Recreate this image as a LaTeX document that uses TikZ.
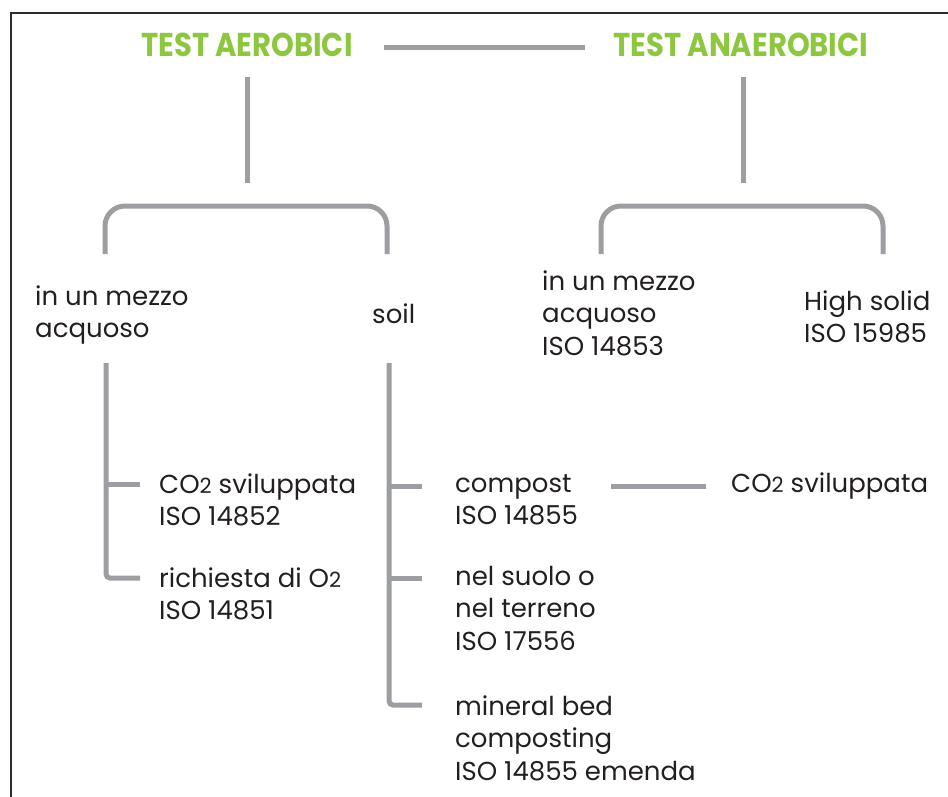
\documentclass[tikz,border=0pt]{standalone}
\usepackage{fontspec}
\setmainfont{Poppins}
\newfontfamily\titlefont[FakeStretch=0.88]{Poppins}
\usepackage{xcolor}
\definecolor{aerogreen}{HTML}{8DC63F}
\definecolor{linegray}{HTML}{9D9EA1}
\definecolor{textdark}{HTML}{231F20}
\definecolor{framegray}{HTML}{2D2C2B}
\newcommand{\subtwo}{{\fontsize{21}{21}\selectfont 2}}

\begin{document}
\begin{tikzpicture}[
    x=1pt, y=-1pt,
    title/.style={font=\titlefont\fontsize{33}{36}\selectfont\bfseries, text=aerogreen,
                  inner sep=0pt, anchor=base},
    lbl/.style={font=\fontsize{26}{32.5}\selectfont, text=textdark,
                align=left, inner sep=0pt, anchor=base west},
    conn/.style={line width=5pt, linegray},
    bracket/.style={conn, rounded corners=20pt},
    trunk/.style={conn, rounded corners=4pt},
]
\useasboundingbox (0,0) rectangle (948,797);

% frame
\draw[framegray, line width=2.5pt] (948,13) -- (11,13) -- (11,797);

% titles
\node[title] (aer) at (247,57) {TEST AEROBICI};
\node[title] (anaer) at (741,57) {TEST ANAEROBICI};
\coordinate (linkL) at (384,48);
\coordinate (linkR) at (585,48);
\draw[conn] (linkL) -- (linkR);

% stems and brackets
\coordinate (aerTop) at (247,77);
\coordinate (aerFoot) at (247,183);
\coordinate (anaerTop) at (743,77);
\coordinate (anaerFoot) at (743,183);
\draw[conn] (aerTop) -- (aerFoot);
\draw[conn] (anaerTop) -- (anaerFoot);
\draw[bracket] (105,254) -- (105,206) -- (387,206) -- (387,254);
\draw[bracket] (601,254) -- (601,206) -- (883,206) -- (883,254);

% second level (base = last line)
\node[lbl] (aquaAer) at (35,337.5) {in un mezzo\\acquoso};
\node[lbl] (soil) at (372,323) {soil};
\node[lbl] (aquaAna) at (542,355) {in un mezzo\\acquoso\\ISO 14853};
\node[lbl] (hisolid) at (804,342.5) {High solid\\ISO 15985};

% aqueous branch
\node[lbl] (co2Aq) at (159,525.5) {CO\subtwo{} sviluppata\\ISO 14852};
\node[lbl] (o2Aq) at (159,619.5) {richiesta di O\subtwo\\ISO 14851};
\coordinate (aqTop) at (106,363);
\coordinate (aqCo2) at (106,484);
\coordinate (aqO2) at (106,578);
\draw[trunk] (aqTop) -- (aqO2) -- ++(34,0);
\draw[conn] (aqCo2) -- ++(34,0);

% soil branch
\node[lbl] (compost) at (455,524.5) {compost\\ISO 14855};
\node[lbl] (co2Comp) at (731,492) {CO\subtwo{} sviluppata};
\node[lbl] (suolo) at (455,650) {nel suolo o\\nel terreno\\ISO 17556};
\node[lbl] (mineral) at (455,780) {mineral bed\\composting\\ISO 14855 emenda};
\coordinate (soilTop) at (389,363);
\coordinate (soilComp) at (389,486);
\coordinate (soilSuolo) at (389,578);
\coordinate (soilMin) at (389,705);
\draw[trunk] (soilTop) -- (soilMin) -- ++(33,0);
\draw[conn] (soilComp) -- ++(33,0);
\draw[conn] (soilSuolo) -- ++(33,0);
\coordinate (compL) at (611,486);
\coordinate (compR) at (706,486);
\draw[conn] (compL) -- (compR);

\end{tikzpicture}
\end{document}
